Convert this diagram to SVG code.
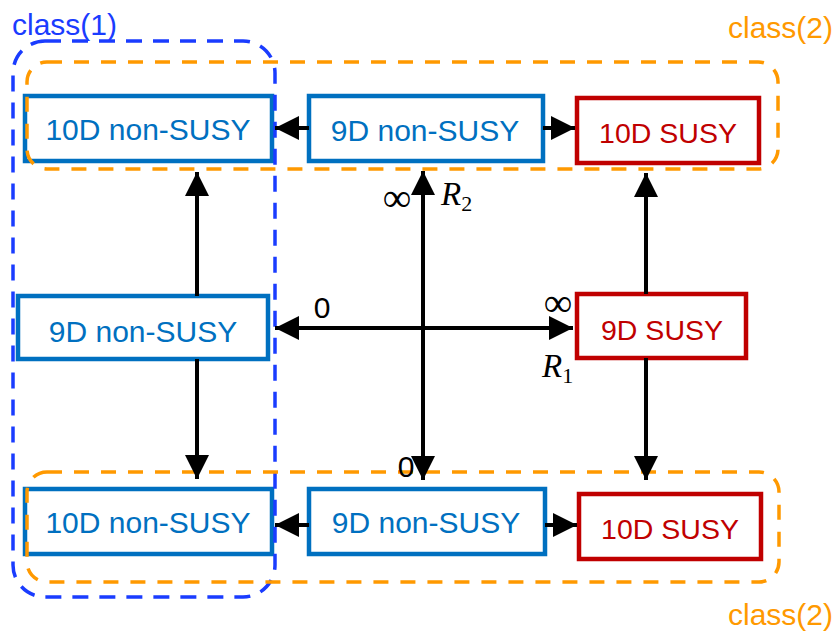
<svg xmlns="http://www.w3.org/2000/svg" width="838" height="633" viewBox="0 0 838 633">
<defs>
<style>
.bx{fill:#fff;stroke-width:4.5}
.nb{stroke:#0070C0}
.sb{stroke:#C00000}
.t{font-family:"Liberation Sans",Arial,sans-serif;text-anchor:middle}
.nt{fill:#0070C0;font-size:30px}
.st{fill:#C00000;font-size:28.5px}
.c1{fill:none;stroke:#1A3CFF;stroke-width:3.5;stroke-dasharray:16 11}
.c2{fill:none;stroke:#FF9900;stroke-width:3.5;stroke-dasharray:15 12}
.ln{stroke:#000;stroke-width:4;fill:none}
.m{font-family:"Liberation Serif","Times New Roman",serif;font-style:italic;font-size:33px;fill:#000}
.inf{font-family:"Liberation Serif","Times New Roman",serif;font-size:40px;fill:#000;text-anchor:middle}
.z{font-family:"Liberation Sans",Arial,sans-serif;font-size:30px;fill:#000;text-anchor:middle}
</style>
<marker id="ah" viewBox="0 0 24 24" refX="24" refY="12" markerWidth="24" markerHeight="24" markerUnits="userSpaceOnUse" orient="auto-start-reverse">
<path d="M0,0 L24,12 L0,24 Z" fill="#000"/>
</marker>
</defs>
<rect width="838" height="633" fill="#fff"/>

<g id="n-top-10d-nonsusy"><rect class="bx nb" x="25" y="96" width="247" height="65"/><text class="t nt" x="148" y="140">10D non-SUSY</text></g>
<g id="n-top-9d-nonsusy"><rect class="bx nb" x="309" y="96" width="234" height="65"/><text class="t nt" x="425" y="141">9D non-SUSY</text></g>
<g id="n-top-10d-susy"><rect class="bx sb" x="577" y="98" width="182" height="65"/><text class="t st" x="668" y="143">10D SUSY</text></g>
<g id="n-mid-9d-nonsusy"><rect class="bx nb" x="18" y="296" width="250" height="63"/><text class="t nt" x="143" y="342">9D non-SUSY</text></g>
<g id="n-mid-9d-susy"><rect class="bx sb" x="577" y="294" width="169" height="64"/><text class="t st" x="662" y="340">9D SUSY</text></g>
<g id="n-bot-10d-nonsusy"><rect class="bx nb" x="25" y="489" width="247" height="65"/><text class="t nt" x="148" y="533">10D non-SUSY</text></g>
<g id="n-bot-9d-nonsusy"><rect class="bx nb" x="309" y="489" width="236" height="65"/><text class="t nt" x="426" y="533">9D non-SUSY</text></g>
<g id="n-bot-10d-susy"><rect class="bx sb" x="579" y="494" width="182" height="65"/><text class="t st" x="670" y="539">10D SUSY</text></g>

<g id="class1"><rect class="c1" x="13" y="41" width="262" height="556" rx="32"/><text x="12" y="35" font-family="Liberation Sans,Arial,sans-serif" font-size="30" fill="#1A3CFF">class(1)</text></g>
<g id="class2-top"><rect class="c2" x="27" y="62" width="751" height="107" rx="20"/><text x="833" y="38" font-family="Liberation Sans,Arial,sans-serif" font-size="30" fill="#FF9900" text-anchor="end">class(2)</text></g>
<g id="class2-bottom"><rect class="c2" x="27" y="472" width="752" height="110" rx="20"/><text x="833" y="625" font-family="Liberation Sans,Arial,sans-serif" font-size="30" fill="#FF9900" text-anchor="end">class(2)</text></g>

<g id="connectors">
<line class="ln" x1="309" y1="128" x2="275" y2="128" marker-end="url(#ah)"/>
<line class="ln" x1="543" y1="128" x2="575" y2="128" marker-end="url(#ah)"/>
<line class="ln" x1="309" y1="525" x2="275" y2="525" marker-end="url(#ah)"/>
<line class="ln" x1="545" y1="525" x2="577" y2="525" marker-end="url(#ah)"/>
<line class="ln" x1="275" y1="328" x2="573" y2="328" marker-start="url(#ah)" marker-end="url(#ah)"/>
<line class="ln" x1="423" y1="171" x2="423" y2="480" marker-start="url(#ah)" marker-end="url(#ah)"/>
<line class="ln" x1="197" y1="359" x2="197" y2="479" marker-end="url(#ah)"/>
<line class="ln" x1="197" y1="296" x2="197" y2="172" marker-end="url(#ah)"/>
<line class="ln" x1="646" y1="294" x2="646" y2="173" marker-end="url(#ah)"/>
<line class="ln" x1="646" y1="358" x2="646" y2="480" marker-end="url(#ah)"/>
</g>

<g id="labels">
<text class="inf" x="397" y="211">∞</text>
<text class="m" x="441" y="205">R<tspan font-size="22" font-style="normal" dy="6">2</tspan></text>
<text class="z" x="322" y="318">0</text>
<text class="inf" x="558" y="316">∞</text>
<text class="m" x="542" y="377">R<tspan font-size="22" font-style="normal" dy="6">1</tspan></text>
<text class="z" x="406" y="477">0</text>
</g>
</svg>
